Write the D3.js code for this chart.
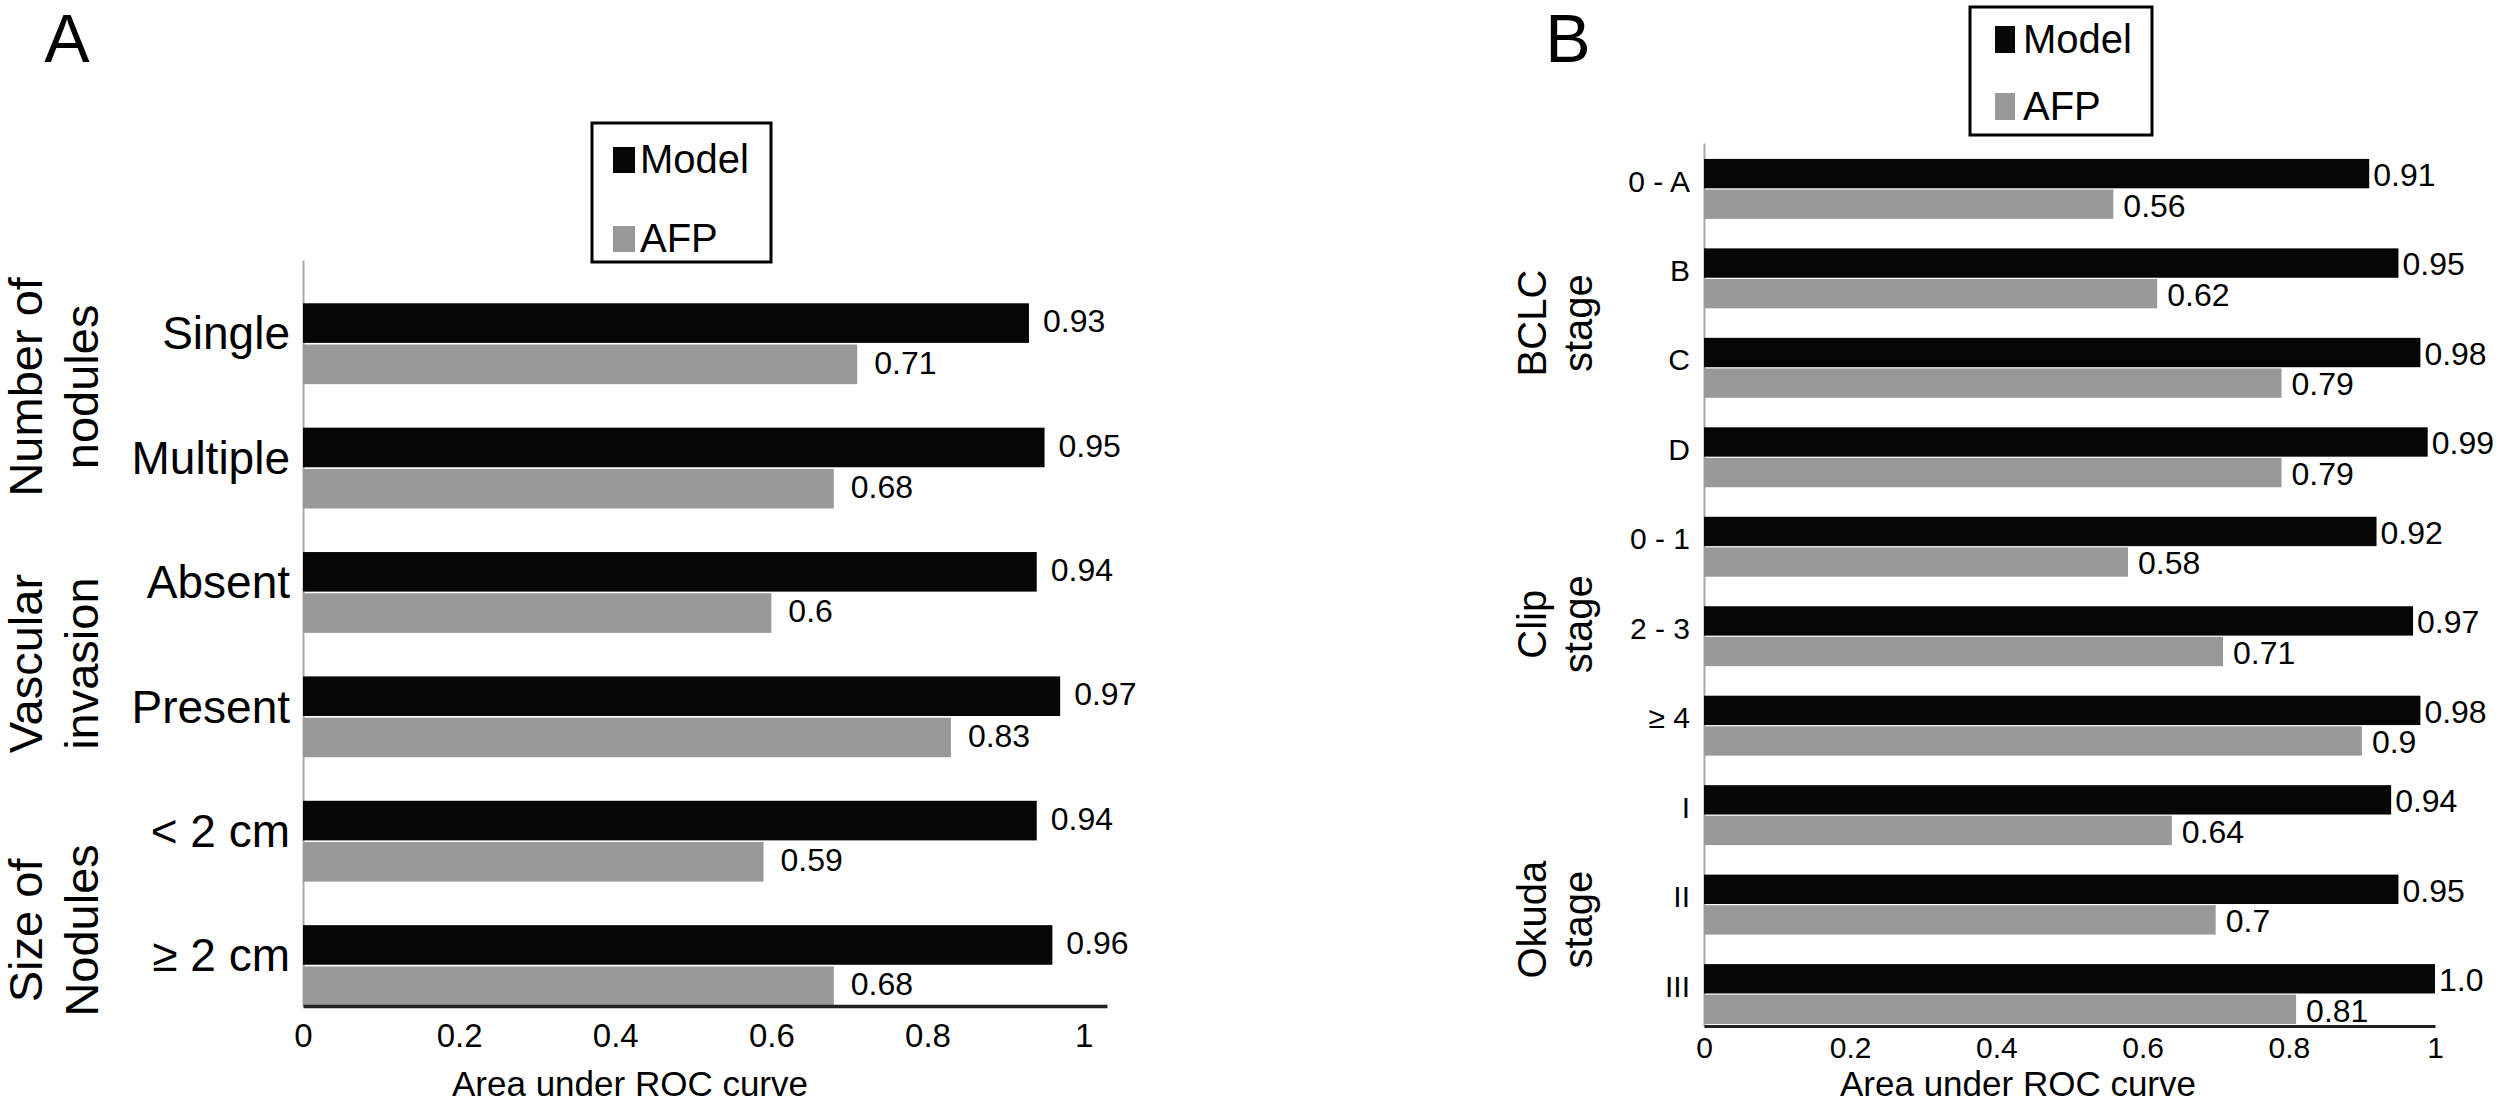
<!DOCTYPE html>
<html>
<head>
<meta charset="utf-8">
<script src="https://cdn.jsdelivr.net/npm/d3@7"></script>
<style>
  body { margin: 0; background: #fff; }
  text { font-family: "Liberation Sans", Arial, sans-serif; fill: #000; }
</style>
</head>
<body>
<script>
// series
var seriesNames = ['Model', 'AFP']
var seriesColors = ['#060606', '#999999']

// panel A
var catsA = ['Single', 'Multiple', 'Absent', 'Present', '< 2 cm', '\u2265 2 cm']
var modelA = [0.93, 0.95, 0.94, 0.97, 0.94, 0.96]
var afpA = [0.71, 0.68, 0.60, 0.83, 0.59, 0.68]
var modelTextA = ['0.93', '0.95', '0.94', '0.97', '0.94', '0.96']
var afpTextA = ['0.71', '0.68', '0.6', '0.83', '0.59', '0.68']
var groupsA = [
    { lines: ['Number of', 'nodules'], from: 'Single', to: 'Multiple' },
    { lines: ['Vascular', 'invasion'], from: 'Absent', to: 'Present' },
    { lines: ['Size of', 'Nodules'], from: '< 2 cm', to: '\u2265 2 cm' }
]

// panel B
var catsB = ['0 - A', 'B', 'C', 'D', '0 - 1', '2 - 3', '\u2265 4', 'I', 'II', 'III']
var modelB = [0.91, 0.95, 0.98, 0.99, 0.92, 0.97, 0.98, 0.94, 0.95, 1.0]
var afpB = [0.56, 0.62, 0.79, 0.79, 0.58, 0.71, 0.90, 0.64, 0.70, 0.81]
var modelTextB = ['0.91', '0.95', '0.98', '0.99', '0.92', '0.97', '0.98', '0.94', '0.95', '1.0']
var afpTextB = ['0.56', '0.62', '0.79', '0.79', '0.58', '0.71', '0.9', '0.64', '0.7', '0.81']
var groupsB = [
    { lines: ['BCLC', 'stage'], from: '0 - A', to: 'D' },
    { lines: ['Clip', 'stage'], from: '0 - 1', to: '\u2265 4' },
    { lines: ['Okuda', 'stage'], from: 'I', to: 'III' }
]

var xTicks = [0, 0.2, 0.4, 0.6, 0.8, 1]
var xTickLabels = ['0', '0.2', '0.4', '0.6', '0.8', '1']
var xTitle = 'Area under ROC curve'

var svg = d3.select('body').append('svg')
    .attr('width', 2505)
    .attr('height', 1106)

function drawPanel(p) {
    var g = svg.append('g')

    var x = d3.scaleLinear().domain(p.xDomain).range(p.xRange)
    var y = d3.scaleBand()
        .domain(p.cats)
        .range(p.yRange)
        .paddingInner(p.padIn)
        .paddingOuter(p.padOut)
        .align(p.align)
    var sub = d3.scaleBand()
        .domain(seriesNames)
        .range([0, y.bandwidth()])
        .paddingInner(0.04)

    var rows = p.cats.map(function(c, i) {
        return { cat: c, vals: [p.model[i], p.afp[i]], texts: [p.modelText[i], p.afpText[i]] }
    })

    // left axis with the category labels
    var yAxis = g.append('g')
        .attr('transform', 'translate(' + x(0) + ',0)')
        .call(d3.axisLeft(y).tickSize(0).tickPadding(p.labelPad))
    yAxis.select('.domain').attr('stroke', '#aaa').attr('stroke-width', 2)
    yAxis.selectAll('text')
        .attr('y', p.labelDy)
        .style('font-size', p.labelSize + 'px')
        .style('font-family', '"Liberation Sans", Arial, sans-serif')
        .attr('fill', '#000')

    // bars
    var row = g.selectAll('.row')
        .data(rows)
        .enter()
        .append('g')
            .attr('class', 'row')
            .attr('transform', function(d) { return 'translate(0,' + y(d.cat) + ')' })

    seriesNames.forEach(function(s, k) {
        row.append('rect')
            .attr('x', x(0))
            .attr('y', sub(s))
            .attr('width', function(d) { return x(d.vals[k]) - x(0) })
            .attr('height', sub.bandwidth())
            .attr('fill', seriesColors[k])

        row.append('text')
            .attr('x', function(d) { return x(d.vals[k]) + p.valDx[k] })
            .attr('y', sub(s) + p.valDy[k])
            .style('font-size', p.valSize + 'px')
            .text(function(d) { return d.texts[k] })
    })

    // bottom axis
    var xAxis = g.append('g')
        .attr('transform', 'translate(0,' + p.yRange[1] + ')')
        .call(d3.axisBottom(x)
            .tickValues(xTicks)
            .tickFormat(function(d, i) { return xTickLabels[i] })
            .tickSize(0)
            .tickPadding(p.tickPad))
    xAxis.select('.domain').attr('stroke', '#222').attr('stroke-width', p.axisWidth)
    xAxis.selectAll('text')
        .style('font-size', p.tickSize + 'px')
        .style('font-family', '"Liberation Sans", Arial, sans-serif')
        .attr('fill', '#000')

    g.append('text')
        .attr('x', p.titleX)
        .attr('y', p.titleY)
        .attr('text-anchor', 'middle')
        .style('font-size', '35px')
        .text(xTitle)

    // rotated group labels
    p.groups.forEach(function(gr, i) {
        var cy = (y(gr.from) + y(gr.to) + y.bandwidth()) / 2 + p.groupShift[i]
        gr.lines.forEach(function(line, j) {
            g.append('text')
                .attr('transform', 'translate(' + p.groupX[j] + ',' + cy + ') rotate(-90)')
                .attr('text-anchor', 'middle')
                .style('font-size', p.groupSize + 'px')
                .text(line)
        })
    })

    // legend
    var lg = g.append('g')
    lg.append('rect')
        .attr('x', p.legend.x)
        .attr('y', p.legend.y)
        .attr('width', p.legend.w)
        .attr('height', p.legend.h)
        .attr('fill', 'none')
        .attr('stroke', '#000')
        .attr('stroke-width', 3)
    seriesNames.forEach(function(s, k) {
        var base = p.legend.y + p.legend.rows[k]
        lg.append('rect')
            .attr('x', p.legend.x + p.legend.sw)
            .attr('y', base - p.legend.sh)
            .attr('width', p.legend.sWidth)
            .attr('height', p.legend.sh)
            .attr('fill', seriesColors[k])
        lg.append('text')
            .attr('x', p.legend.x + p.legend.tx)
            .attr('y', base)
            .style('font-size', '40px')
            .text(s)
    })

    g.append('text')
        .attr('x', p.letterX)
        .attr('y', 62)
        .attr('text-anchor', 'middle')
        .style('font-size', '68px')
        .text(p.letter)
}

drawPanel({
    letter: 'A', letterX: 67,
    cats: catsA, model: modelA, afp: afpA, modelText: modelTextA, afpText: afpTextA, groups: groupsA,
    xDomain: [0, 1.03], xRange: [303, 1107],
    yRange: [260, 1006], padIn: 0.35, padOut: 0.174, align: 1,
    labelPad: 13, labelDy: -9, labelSize: 46,
    valSize: 32, valDx: [14, 17], valDy: [29, 29],
    tickPad: 18, tickSize: 33, axisWidth: 3.5,
    titleX: 630, titleY: 1096,
    groupX: [42, 98], groupSize: 47, groupShift: [-19, 9, 27],
    legend: { x: 592, y: 123, w: 179, h: 139, sw: 21, sWidth: 22, sh: 26, tx: 48, rows: [50, 129] }
})

drawPanel({
    letter: 'B', letterX: 1568,
    cats: catsB, model: modelB, afp: afpB, modelText: modelTextB, afpText: afpTextB, groups: groupsB,
    xDomain: [0, 1], xRange: [1704, 2435],
    yRange: [143, 1026], padIn: 0.33, padOut: 0.1, align: 0.89,
    labelPad: 14, labelDy: -7, labelSize: 30,
    valSize: 32, valDx: [4, 10], valDy: [27, 27],
    tickPad: 11, tickSize: 30, axisWidth: 3,
    titleX: 2018, titleY: 1096,
    groupX: [1546, 1592], groupSize: 40, groupShift: [0, -12, 15],
    legend: { x: 1970, y: 7, w: 182, h: 128, sw: 25, sWidth: 20, sh: 27, tx: 53, rows: [46, 113] }
})
</script>
</body>
</html>
